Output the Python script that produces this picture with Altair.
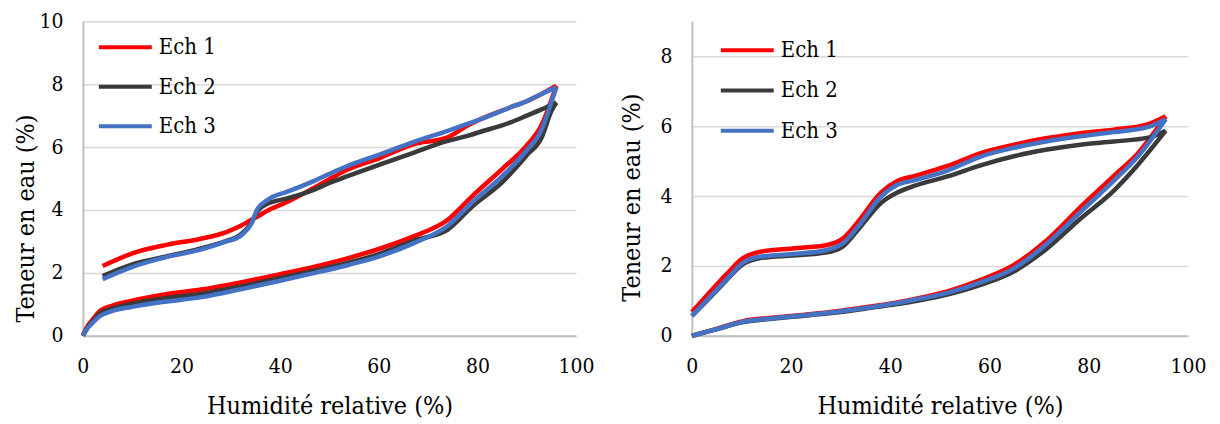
import altair as alt
import pandas as pd

samples = ["Ech 1", "Ech 2", "Ech 3"]
colors = ["#ff0000", "#3a3a3a", "#4472c4"]

# ---------- Left panel ----------
L_ads_h = [0, 1, 2, 3.4, 6, 10, 16, 24, 32, 40, 47, 54, 60, 67, 74, 79, 85, 90, 93, 95, 96]
L_ads_e1 = [0, 0.32, 0.52, 0.78, 0.96, 1.12, 1.3, 1.47, 1.7, 1.96, 2.2, 2.48, 2.76, 3.16, 3.69, 4.45, 5.3, 6.05, 6.7, 7.5, 7.95]
L_ads_e2 = [0, 0.28, 0.46, 0.7, 0.87, 1.02, 1.18, 1.34, 1.57, 1.84, 2.07, 2.33, 2.6, 3.02, 3.38, 4.12, 4.88, 5.74, 6.3, 7.15, 7.42]
L_ads_e3 = [0, 0.25, 0.42, 0.62, 0.79, 0.92, 1.07, 1.23, 1.48, 1.75, 2.0, 2.26, 2.52, 2.94, 3.5, 4.25, 5.07, 5.9, 6.55, 7.43, 7.9]

L_des_h = [96, 93, 90, 86.6, 80.5, 77.8, 73.8, 67, 60.3, 53.5, 50, 46.8, 41.2, 38.5, 37.2, 35.5, 34.2, 31.8, 29.1, 23.7, 16.9, 10.2, 4]
L_des_e1 = [7.95, 7.69, 7.46, 7.26, 6.88, 6.67, 6.3, 6.09, 5.66, 5.27, 4.98, 4.7, 4.24, 4.06, 3.96, 3.8, 3.69, 3.48, 3.3, 3.08, 2.89, 2.63, 2.22]
L_des_e2 = [7.42, 7.2, 7.0, 6.78, 6.48, 6.35, 6.19, 5.82, 5.45, 5.07, 4.86, 4.64, 4.36, 4.26, 4.18, 3.98, 3.6, 3.2, 3.02, 2.77, 2.52, 2.28, 1.9]
L_des_e3 = [7.9, 7.69, 7.46, 7.26, 6.88, 6.73, 6.51, 6.16, 5.77, 5.39, 5.15, 4.92, 4.57, 4.42, 4.29, 4.06, 3.58, 3.16, 3.0, 2.73, 2.5, 2.2, 1.8]

# ---------- Right panel ----------
R_ads_h = [0, 5, 10.3, 17, 23.7, 30, 37.1, 41.1, 44.8, 51.5, 58.2, 64.9, 68.3, 71.6, 78.3, 85, 90, 95.5]
R_ads_e1 = [0, 0.2, 0.42, 0.53, 0.62, 0.72, 0.86, 0.95, 1.05, 1.27, 1.6, 2.03, 2.36, 2.74, 3.68, 4.57, 5.24, 6.28]
R_ads_e2 = [0, 0.19, 0.39, 0.5, 0.59, 0.68, 0.82, 0.9, 0.99, 1.18, 1.46, 1.84, 2.15, 2.5, 3.35, 4.15, 4.91, 5.87]
R_ads_e3 = [0, 0.19, 0.4, 0.51, 0.6, 0.7, 0.84, 0.93, 1.03, 1.23, 1.53, 1.93, 2.26, 2.64, 3.54, 4.43, 5.15, 6.2]

R_des_h = [95.5, 92, 85, 78.3, 71.6, 64.9, 58.2, 51.5, 44.8, 41.4, 38.1, 33.7, 30.4, 27, 20.3, 13.6, 10.3, 6.9, 3.5, 0]
R_des_e1 = [6.28, 6.06, 5.9, 5.8, 5.66, 5.47, 5.23, 4.86, 4.57, 4.43, 4.1, 3.3, 2.78, 2.59, 2.5, 2.4, 2.22, 1.75, 1.23, 0.68]
R_des_e2 = [5.87, 5.67, 5.56, 5.47, 5.33, 5.14, 4.88, 4.56, 4.29, 4.1, 3.8, 3.07, 2.55, 2.38, 2.3, 2.22, 2.05, 1.58, 1.07, 0.57]
R_des_e3 = [6.2, 5.98, 5.83, 5.71, 5.57, 5.38, 5.13, 4.73, 4.45, 4.32, 3.98, 3.16, 2.64, 2.45, 2.34, 2.26, 2.09, 1.6, 1.09, 0.57]

x_ticks = [0, 20, 40, 60, 80, 100]
L_y_ticks = [0, 2, 4, 6, 8, 10]
R_y_ticks = [0, 2, 4, 6, 8]

FONT = "DejaVu Serif Condensed"


def build_frame(ads_h, ads_vals, des_h, des_vals):
    rows = []
    for name, a_vals, d_vals in zip(samples, ads_vals, des_vals):
        for h, w in zip(ads_h, a_vals):
            rows.append({"sample": name, "branch": "ads", "h": h, "w": w})
        for h, w in zip(des_h, d_vals):
            rows.append({"sample": name, "branch": "des", "h": h, "w": w})
    return pd.DataFrame(rows)


def panel(df, ymax, yticks, width, height, lx, ly, row_pad, ytitle_pad, ytitle_y):
    chart = alt.Chart(df).mark_line(strokeWidth=4.5, interpolate="monotone").encode(
        x=alt.X(
            "h:Q",
            scale=alt.Scale(domain=[0, 100], nice=False),
            axis=alt.Axis(values=x_ticks, title="Humidité relative (%)", grid=False,
                          labelFlush=False, labelPadding=20, titlePadding=17),
        ),
        y=alt.Y(
            "w:Q",
            scale=alt.Scale(domain=[0, ymax], nice=False),
            axis=alt.Axis(values=yticks, title="Teneur en eau (%)", grid=True,
                          labelPadding=20, titlePadding=ytitle_pad, titleY=ytitle_y),
        ),
        color=alt.Color(
            "sample:N",
            scale=alt.Scale(domain=samples, range=colors),
            legend=alt.Legend(
                title=None, orient="none", legendX=lx, legendY=ly,
                symbolType="stroke", symbolSize=2809, symbolStrokeWidth=4,
                labelFont=FONT, labelFontSize=22, labelColor="#000000",
                labelOffset=5, clipHeight=26, rowPadding=row_pad, padding=0,
            ),
        ),
        detail="branch:N",
        order=alt.Order("h:Q"),
    )
    return chart.properties(width=width, height=height)


left_df = build_frame(L_ads_h, [L_ads_e1, L_ads_e2, L_ads_e3], L_des_h, [L_des_e1, L_des_e2, L_des_e3])
right_df = build_frame(R_ads_h, [R_ads_e1, R_ads_e2, R_ads_e3], R_des_h, [R_des_e1, R_des_e2, R_des_e3])

left = panel(left_df, 10, L_y_ticks, 494, 315, 14, 13, 13.5, 0, 197)
right = panel(right_df, 9, R_y_ticks, 497, 315, 27, 16, 14.3, 15, 176)

chart = (
    alt.hconcat(left, right, spacing=24)
    .resolve_scale(color="independent")
    .properties(padding={"left": 5, "top": 2, "right": 5, "bottom": 0})
    .configure_view(stroke=None)
    .configure_axis(
        labelFont=FONT, titleFont=FONT, labelFontSize=21, titleFontSize=25,
        titleFontWeight="normal", labelColor="#000000", titleColor="#000000",
        ticks=False, tickSize=0, domainColor="#bfbfbf", domainWidth=2,
        gridColor="#d9d9d9", gridWidth=1.5,
    )
)

chart.save("out.html", embed_options={"renderer": "svg", "actions": False})
